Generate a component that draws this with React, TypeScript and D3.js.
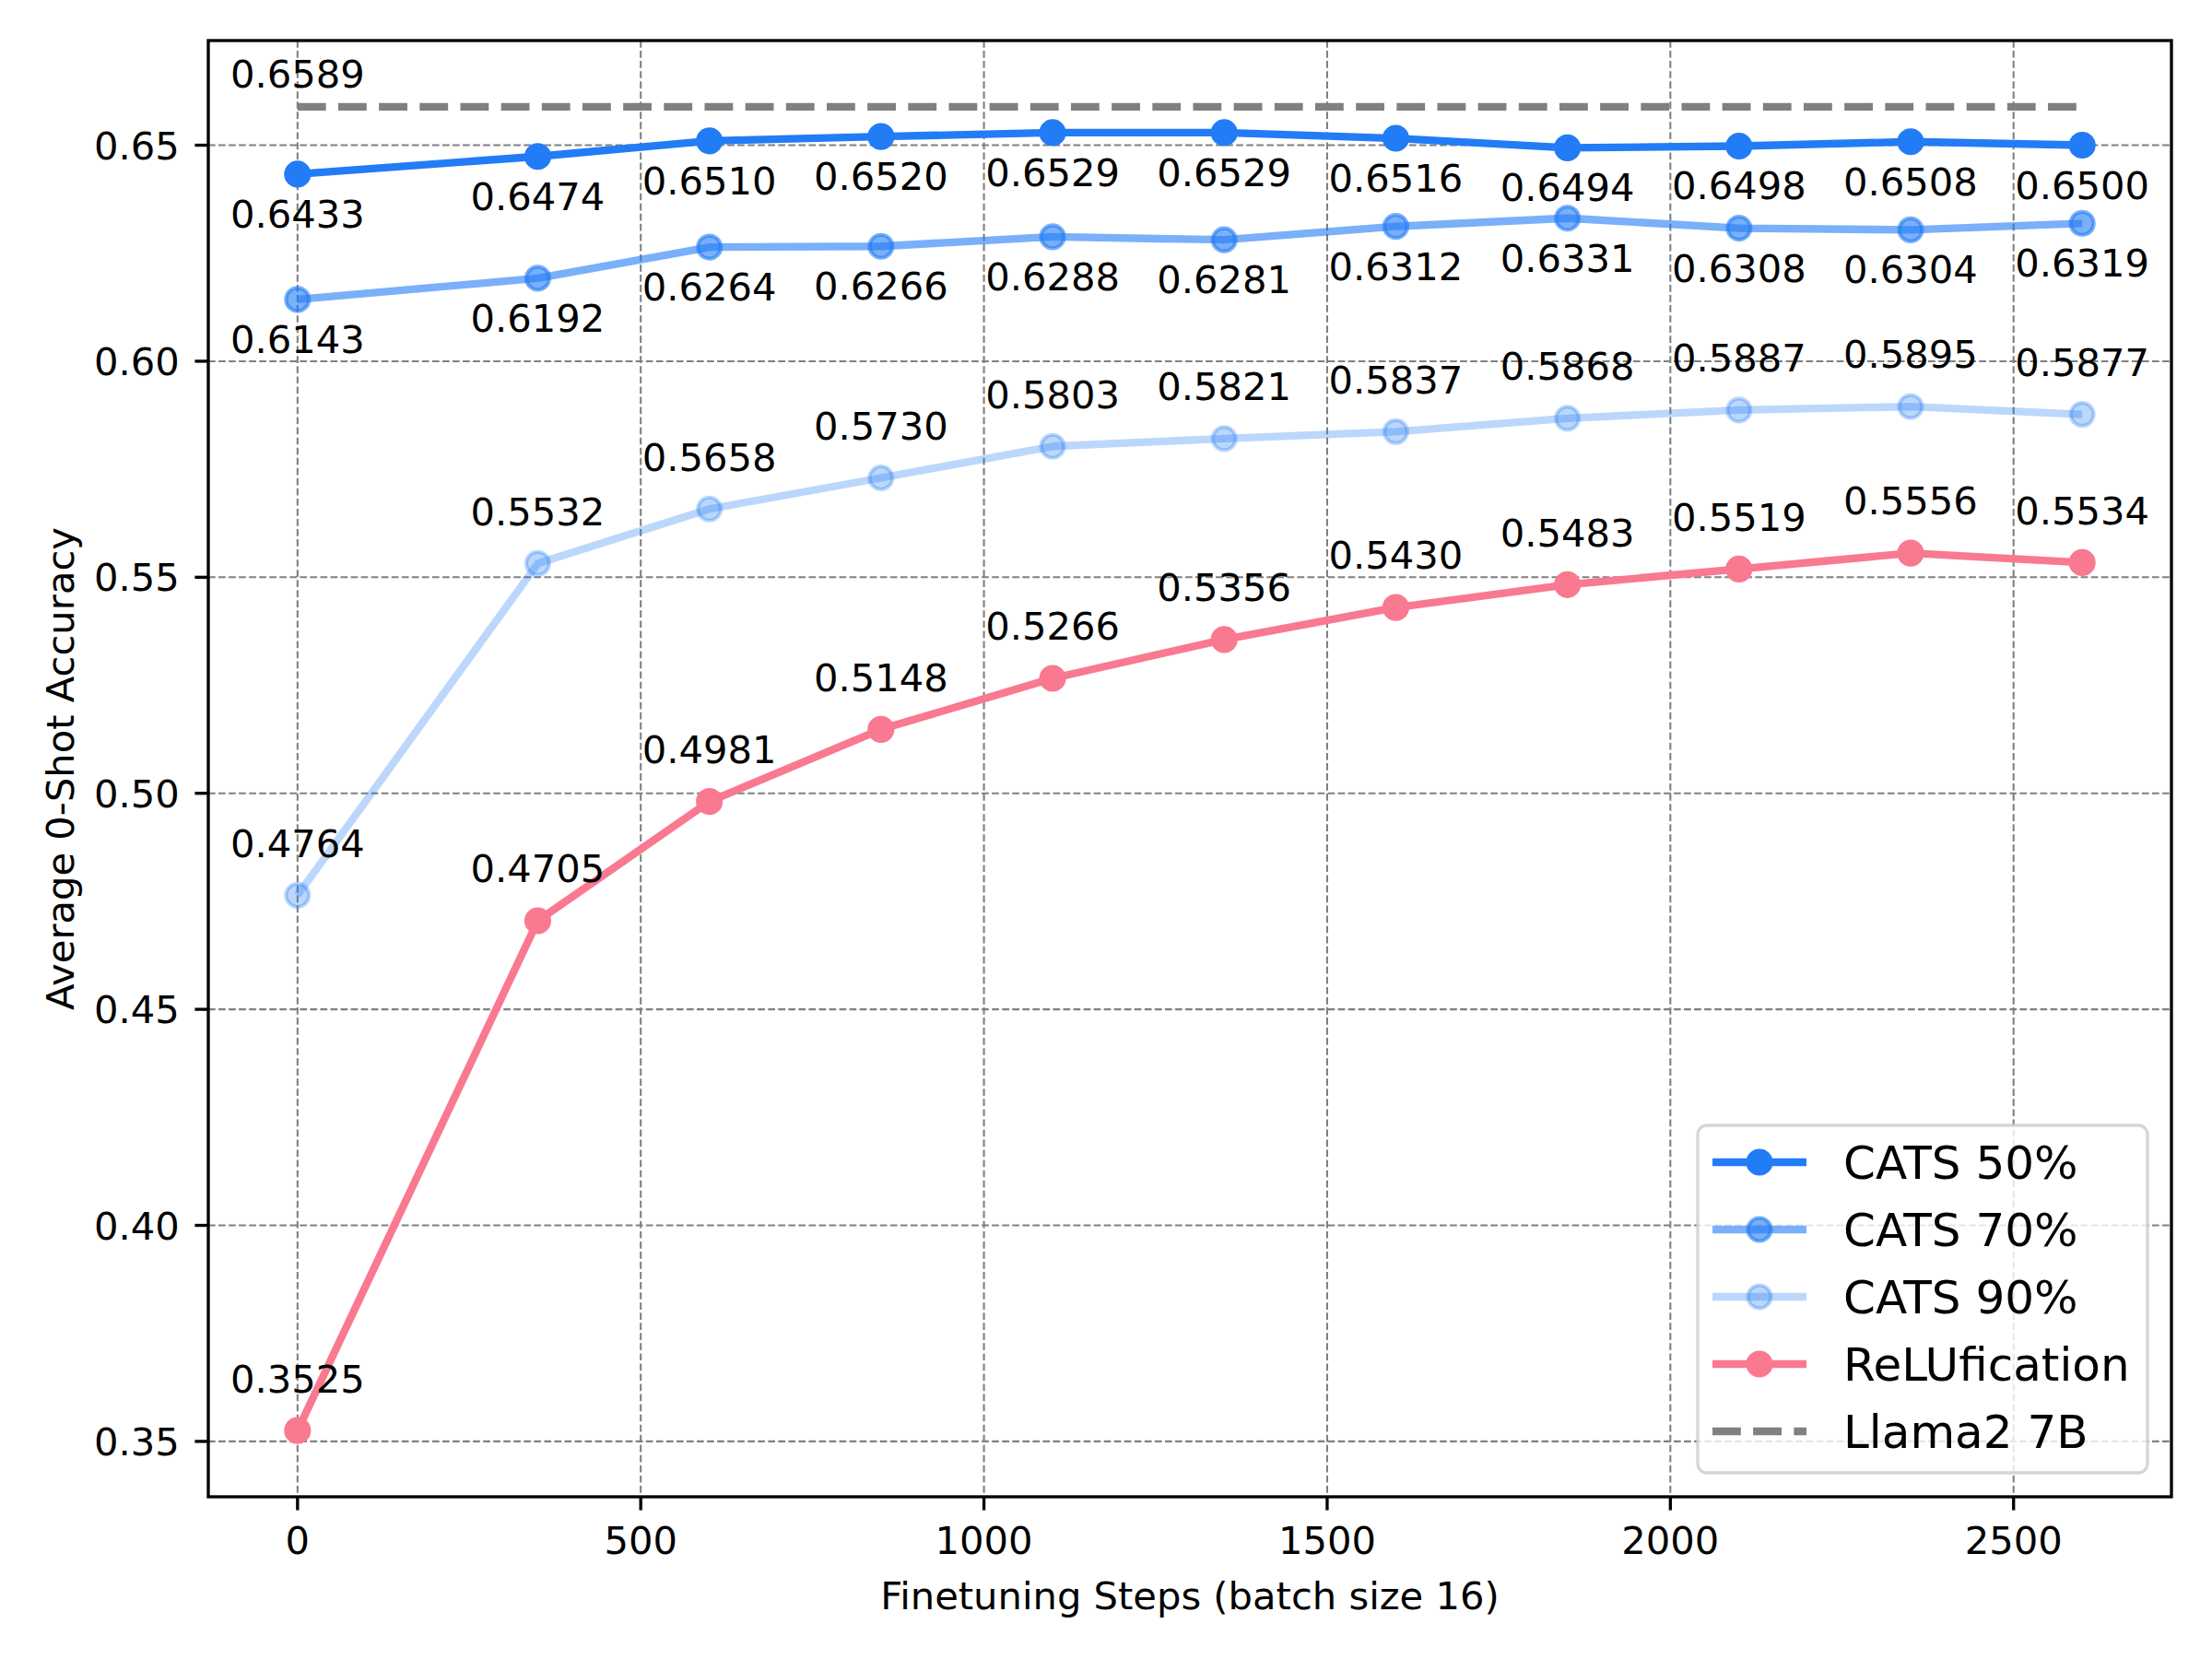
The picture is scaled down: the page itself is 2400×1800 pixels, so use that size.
import * as d3 from "d3";

// finetuning steps (x) and average 0-shot accuracy per run
const STEPS = [0, 350, 600, 850, 1100, 1350, 1600, 1850, 2100, 2350, 2600];
const CATS_50 = [0.6433, 0.6474, 0.651, 0.652, 0.6529, 0.6529, 0.6516, 0.6494, 0.6498, 0.6508, 0.65];
const CATS_70 = [0.6143, 0.6192, 0.6264, 0.6266, 0.6288, 0.6281, 0.6312, 0.6331, 0.6308, 0.6304, 0.6319];
const CATS_90 = [0.4764, 0.5532, 0.5658, 0.573, 0.5803, 0.5821, 0.5837, 0.5868, 0.5887, 0.5895, 0.5877];
const RELU = [0.3525, 0.4705, 0.4981, 0.5148, 0.5266, 0.5356, 0.543, 0.5483, 0.5519, 0.5556, 0.5534];
const LLAMA2_7B = 0.6589;

const X_TICKS = [0, 500, 1000, 1500, 2000, 2500];
const Y_TICKS = [0.35, 0.4, 0.45, 0.5, 0.55, 0.6, 0.65];

const BLUE = "#227cf5";
const PINK = "#f97990";

const W = 2400;
const H = 1800;
const PT = 300 / 72;
const margin = { left: 226, right: 44, top: 44, bottom: 176 };
const FONT = "'DejaVu Sans', sans-serif";

const series = [
    { name: "CATS 50%", values: CATS_50, color: BLUE, alpha: 1, above: false },
    { name: "CATS 70%", values: CATS_70, color: BLUE, alpha: 0.6, above: false },
    { name: "CATS 90%", values: CATS_90, color: BLUE, alpha: 0.3, above: true },
    { name: "ReLUfication", values: RELU, color: PINK, alpha: 1, above: true },
];

export default function App() {
    const allY = [...CATS_50, ...CATS_70, ...CATS_90, ...RELU, LLAMA2_7B];
    const [x0, x1] = d3.extent(STEPS) as [number, number];
    const [y0, y1] = d3.extent(allY) as [number, number];
    const px = (x1 - x0) * 0.05;
    const py = (y1 - y0) * 0.05;

    const x = d3.scaleLinear().domain([x0 - px, x1 + px]).range([margin.left, W - margin.right]);
    const y = d3.scaleLinear().domain([y0 - py, y1 + py]).range([H - margin.bottom, margin.top]);

    const line = d3
        .line<number>()
        .x((_, i) => x(STEPS[i]))
        .y((d) => y(d));

    const left = margin.left;
    const right = W - margin.right;
    const top = margin.top;
    const bottom = H - margin.bottom;
    const lw = 2 * PT;
    const r = 3 * PT;

    // legend layout
    const legend = { x: 1842, y: 1221, w: 488, h: 377, row0: 1261, step: 73 };
    const legendItems = [
        ...series.map((s) => ({ name: s.name, color: s.color, alpha: s.alpha, dashed: false })),
        { name: "Llama2 7B", color: "#808080", alpha: 1, dashed: true },
    ];

    return (
        <div style={{ position: "absolute", left: 0, top: 0 }}>
            <svg width={W} height={H} style={{ display: "block", background: "white" }} fontFamily={FONT}>
                {/* grid */}
                <g stroke="#808080" strokeWidth={0.5 * PT} strokeDasharray={`${3.7 * 0.5 * PT} ${1.6 * 0.5 * PT}`}>
                    {X_TICKS.map((t) => (
                        <line key={`gx${t}`} x1={x(t)} x2={x(t)} y1={top} y2={bottom} />
                    ))}
                    {Y_TICKS.map((t) => (
                        <line key={`gy${t}`} x1={left} x2={right} y1={y(t)} y2={y(t)} />
                    ))}
                </g>

                {/* series */}
                {series.map((s) => (
                    <g key={s.name}>
                        <path
                            d={line(s.values) ?? ""}
                            fill="none"
                            stroke={s.color}
                            strokeOpacity={s.alpha}
                            strokeWidth={lw}
                            strokeLinejoin="round"
                        />
                        {s.values.map((v, i) => (
                            <circle
                                key={i}
                                cx={x(STEPS[i])}
                                cy={y(v)}
                                r={r}
                                fill={s.color}
                                fillOpacity={s.alpha}
                                stroke={s.color}
                                strokeOpacity={s.alpha}
                                strokeWidth={PT}
                            />
                        ))}
                    </g>
                ))}

                {/* baseline model */}
                <line
                    x1={x(x0)}
                    x2={x(x1)}
                    y1={y(LLAMA2_7B)}
                    y2={y(LLAMA2_7B)}
                    stroke="#808080"
                    strokeWidth={lw}
                    strokeDasharray={`${3.7 * lw} ${1.6 * lw}`}
                />

                {/* value labels */}
                <g fontSize={10 * PT} textAnchor="middle" fill="black">
                    {series.map((s) =>
                        s.values.map((v, i) => (
                            <text key={`${s.name}${i}`} x={x(STEPS[i])} y={y(v) + (s.above ? -10 * PT : 58)}>
                                {v.toFixed(4)}
                            </text>
                        ))
                    )}
                    <text x={x(x0)} y={y(LLAMA2_7B) - 5 * PT}>
                        {LLAMA2_7B.toFixed(4)}
                    </text>
                </g>

                {/* spines */}
                <rect x={left} y={top} width={right - left} height={bottom - top} fill="none" stroke="black" strokeWidth={0.8 * PT} />

                {/* x axis */}
                <g fontSize={10 * PT} textAnchor="middle">
                    {X_TICKS.map((t) => (
                        <g key={`xt${t}`}>
                            <line x1={x(t)} x2={x(t)} y1={bottom} y2={bottom + 3.5 * PT} stroke="black" strokeWidth={0.8 * PT} />
                            <text x={x(t)} y={bottom + 62}>
                                {t}
                            </text>
                        </g>
                    ))}
                    <text x={(left + right) / 2} y={1746}>
                        Finetuning Steps (batch size 16)
                    </text>
                </g>

                {/* y axis */}
                <g fontSize={10 * PT}>
                    {Y_TICKS.map((t) => (
                        <g key={`yt${t}`}>
                            <line x1={left - 3.5 * PT} x2={left} y1={y(t)} y2={y(t)} stroke="black" strokeWidth={0.8 * PT} />
                            <text x={left - 7 * PT - 2} y={y(t) + 15} textAnchor="end">
                                {t.toFixed(2)}
                            </text>
                        </g>
                    ))}
                    <text transform={`translate(80, ${(top + bottom) / 2}) rotate(-90)`} textAnchor="middle">
                        Average 0-Shot Accuracy
                    </text>
                </g>

                {/* legend */}
                <g>
                    <rect
                        x={legend.x}
                        y={legend.y}
                        width={legend.w}
                        height={legend.h}
                        rx={10}
                        fill="white"
                        fillOpacity={0.8}
                        stroke="#cccccc"
                        strokeOpacity={0.8}
                        strokeWidth={0.8 * PT}
                    />
                    {legendItems.map((it, i) => {
                        const cy = legend.row0 + i * legend.step;
                        return (
                            <g key={it.name}>
                                <line
                                    x1={1858}
                                    x2={1960}
                                    y1={cy}
                                    y2={cy}
                                    stroke={it.color}
                                    strokeOpacity={it.alpha}
                                    strokeWidth={lw}
                                    strokeDasharray={it.dashed ? `${3.7 * lw} ${1.6 * lw}` : undefined}
                                />
                                {!it.dashed && (
                                    <circle
                                        cx={1909}
                                        cy={cy}
                                        r={r}
                                        fill={it.color}
                                        fillOpacity={it.alpha}
                                        stroke={it.color}
                                        strokeOpacity={it.alpha}
                                        strokeWidth={PT}
                                    />
                                )}
                                <text x={2000} y={cy + 18} fontSize={12 * PT}>
                                    {it.name}
                                </text>
                            </g>
                        );
                    })}
                </g>
            </svg>
        </div>
    );
}
